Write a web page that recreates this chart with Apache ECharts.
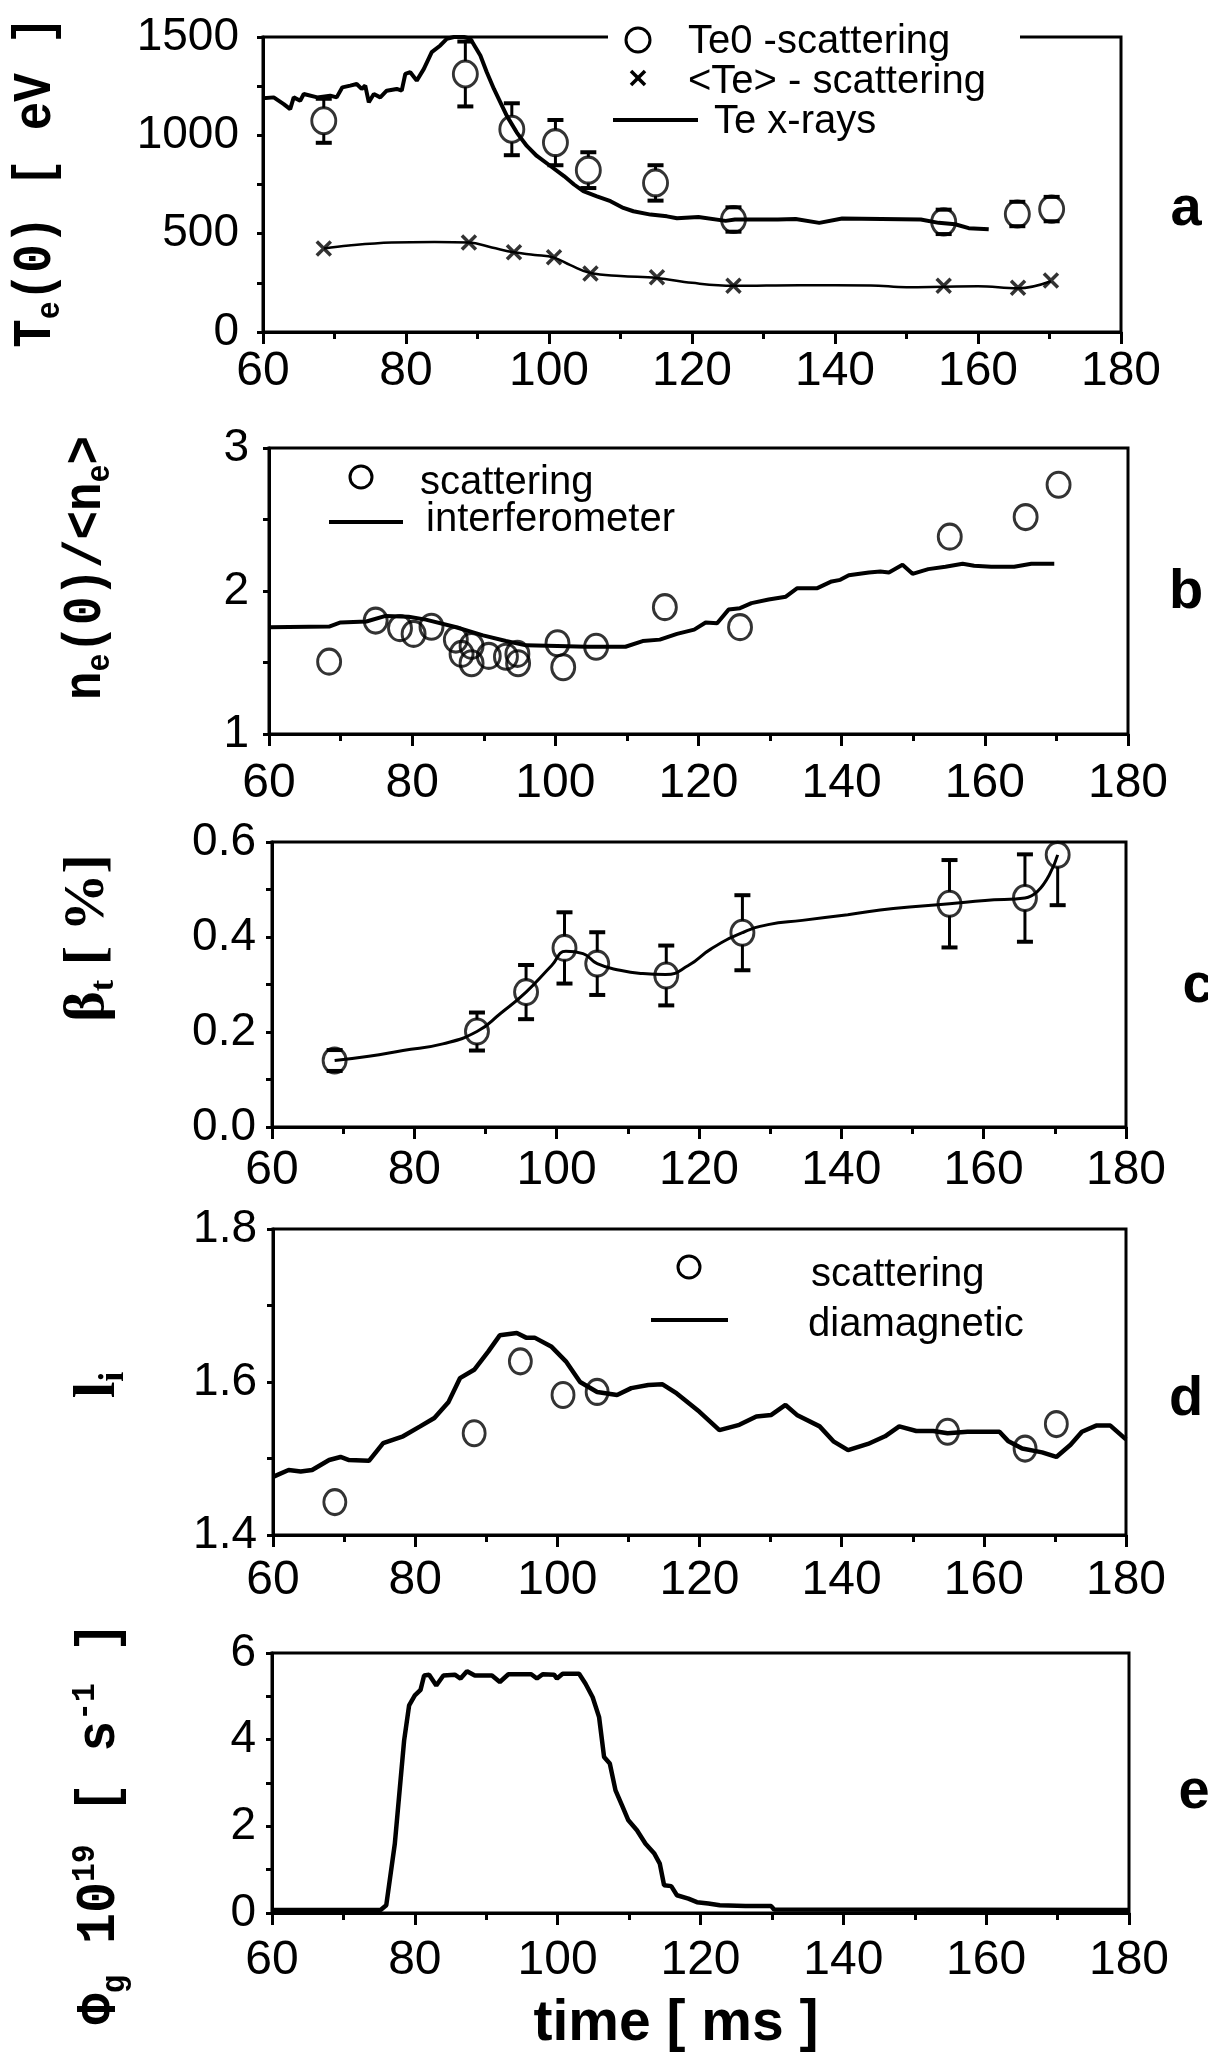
<!DOCTYPE html>
<html><head><meta charset="utf-8">
<script src="https://cdn.jsdelivr.net/npm/echarts@6/dist/echarts.min.js"></script>
<style>html,body{margin:0;padding:0;background:#fff}#chart{width:1208px;height:2055px}</style>
</head><body><div id="chart"></div>
<script>
// ---------- Panel a : Te(0) ----------
const teXrayT = [60,61.5,62.9,63.8,64.3,65.2,65.7,67.6,69.4,70.3,71.1,72.2,73.1,73.8,74.3,74.8,75.5,76.4,77.3,78.7,79.4,79.9,80.6,81.5,82.5,83.6,84.8,85.7,86.7,88.1,89.0,90.4,91.3,92.3,93.2,94.1,95.5,96.9,98.3,100.2,102.1,103.5,104.8,106.7,108.6,110.4,111.8,114.2,116.5,117.9,120.9,124.7,126,132,134.5,137.8,141,146.5,152,154.5,156.8,158.7,161.5];
const teXrayV = [1188,1193,1159,1133,1193,1176,1210,1193,1202,1193,1244,1253,1261,1236,1253,1168,1210,1193,1227,1236,1227,1312,1321,1278,1338,1423,1457,1491,1500,1500,1491,1406,1321,1236,1168,1099,1014,946,895,844,793,750,716,690,665,631,614,597,588,578,585,565,572,572,575,555,577,575,572,555,548,528,522];
const te0T = [68.5,88.3,94.8,100.9,105.5,114.9,125.8,155.2,165.5,170.3];
const te0V = [1074,1312,1031,963,823,758,572,560,600,625];
const te0Err = [112,165,132,115,91,90,62,62,62,62];
const teAvgT = [68.5,88.8,95.1,100.7,105.8,115.1,125.8,155.2,165.6,170.2];
const teAvgV = [425,455,405,380,298,278,235,235,225,262];
const teAvgLineT = [68.5,72,78,84,88.8,92,95.1,98,100.7,103,105.8,110,115.1,120,125.8,135,145,150,155.2,160,165.6,170.2];
const teAvgLineV = [425,440,455,458,455,430,405,392,378,340,300,285,275,250,235,238,237,228,230,232,222,258];
// ---------- Panel b : ne(0)/<ne> ----------
const ifmT = [60,68.4,70.0,73.6,76.3,79.5,81.9,85.9,89.9,93.1,95.9,100.3,104.3,109.8,112.2,114.6,117.0,119.4,121.0,122.6,124.2,125.8,127.4,129.8,132.2,133.8,136.6,138.6,139.8,141.0,143.8,145.4,146.6,148.5,149.9,152.1,154.5,156.9,158.5,160.9,164.1,166.5,169.7];
const ifmV = [1.747,1.751,1.78,1.787,1.826,1.82,1.80,1.75,1.69,1.65,1.62,1.616,1.61,1.61,1.65,1.66,1.70,1.73,1.78,1.775,1.87,1.88,1.915,1.94,1.96,2.02,2.02,2.067,2.078,2.11,2.13,2.136,2.13,2.183,2.12,2.153,2.17,2.19,2.176,2.17,2.17,2.19,2.19];
const nsT = [68.4,74.9,78.3,80.2,82.7,86.1,88.3,86.9,88.3,90.7,93.1,94.7,94.8,100.3,101.1,105.7,115.3,125.8,155.1,165.7,170.3];
const nsV = [1.506,1.793,1.74,1.70,1.75,1.66,1.616,1.56,1.495,1.546,1.54,1.56,1.495,1.635,1.467,1.61,1.887,1.747,2.38,2.517,2.743];
// ---------- Panel c : beta_t ----------
const betaT = [68.8,88.8,95.7,101.1,105.7,115.4,126.1,155.2,165.8,170.4];
const betaV = [0.140,0.201,0.284,0.377,0.344,0.319,0.409,0.470,0.482,0.573];
const betaErr = [0.022,0.040,0.057,0.075,0.066,0.063,0.079,0.092,0.092,0.106];
const betaLineT = [68.8,73.6,78.4,84.0,88.8,92.1,95.7,99.3,101.3,103.7,105.7,108.9,112.1,115.3,118.5,121.7,126.1,129.7,134.5,140.9,147.3,155.2,160.2,165.8,170.4];
const betaLineV = [0.140,0.149,0.161,0.175,0.201,0.239,0.284,0.340,0.370,0.365,0.344,0.330,0.323,0.321,0.340,0.375,0.409,0.426,0.435,0.447,0.460,0.470,0.477,0.482,0.573];
// ---------- Panel d : li ----------
const diaT = [60,62.2,63.9,65.5,67.9,69.5,70.7,73.5,75.5,78.3,80.7,82.7,84.7,86.3,88.3,90.3,91.9,94.3,95.6,96.8,99.2,101.2,103.2,105.6,108.4,110.4,112.8,114.8,116.8,120.0,122.8,125.6,128.0,130.1,132.1,133.7,136.9,138.9,140.9,143.7,146.1,148.1,150.5,152.9,154.9,157.7,162.2,163.4,165.4,168.2,170.2,172.2,173.8,175.8,177.8,180];
const diaV = [1.476,1.485,1.483,1.485,1.498,1.502,1.498,1.497,1.520,1.529,1.542,1.553,1.574,1.605,1.616,1.640,1.661,1.664,1.658,1.658,1.646,1.627,1.600,1.587,1.583,1.592,1.596,1.597,1.585,1.561,1.537,1.544,1.555,1.557,1.570,1.557,1.542,1.522,1.511,1.519,1.529,1.542,1.536,1.536,1.533,1.535,1.535,1.523,1.513,1.508,1.502,1.518,1.535,1.543,1.543,1.525];
const liT = [68.7,88.3,94.8,100.8,105.6,154.9,165.8,170.2];
const liV = [1.443,1.533,1.627,1.583,1.587,1.535,1.513,1.545];
// ---------- Panel e : Phi_g ----------
const phiT = [60,75.2,76.0,77.2,78.5,79.2,80.0,80.8,81.3,82.0,83.0,84.0,85.6,86.4,87.3,88.4,90.8,91.9,93.1,96.3,97.1,97.9,99.5,99.9,100.7,103.0,103.9,104.9,105.8,106.5,107.3,108.1,109.1,109.9,111.1,112.3,113.5,114.3,114.9,115.9,116.7,118.3,119.5,121.1,122.7,126.3,129.9,130.3,180];
const phiV = [0.07,0.07,0.18,1.6,3.98,4.79,5.02,5.15,5.48,5.50,5.25,5.48,5.50,5.41,5.58,5.48,5.48,5.33,5.51,5.51,5.41,5.51,5.50,5.41,5.52,5.52,5.29,4.98,4.52,3.6,3.45,2.83,2.45,2.14,1.91,1.6,1.38,1.14,0.64,0.62,0.41,0.33,0.25,0.22,0.18,0.16,0.16,0.08,0.07];
// ---------- axis ticks ----------
const timeTicks = [60,80,100,120,140,160,180];
const teTicks = [0,500,1000,1500];
const neTicks = [1,2,3];
const betaTicks = [0.0,0.2,0.4,0.6];
const liTicks = [1.4,1.6,1.8];
const phiTicks = [0,2,4,6];

const zip = (a,b) => a.map((v,i)=>[v,b[i]]);
const K = '#000';
const grids = [
  {left:263, top:37, width:858, height:295},
  {left:269, top:448, width:859, height:286},
  {left:272, top:842, width:854, height:285},
  {left:273, top:1229, width:853, height:306},
  {left:272, top:1653, width:857, height:260}
];
const xMargins = [16,26,20,22,24];
const yMargins = [24,20,16,16,16];
const yTickSets = [teTicks, neTicks, betaTicks, liTicks, phiTicks];
const yDec = [0,0,1,1,0];

function xAx(i){
  return {type:'value', gridIndex:i, min:timeTicks[0], max:timeTicks[timeTicks.length-1], interval:timeTicks[1]-timeTicks[0],
    axisLine:{show:true, onZero:false, lineStyle:{color:K,width:3}},
    axisTick:{show:true, inside:false, length:12, lineStyle:{color:K,width:3}},
    minorTick:{show:true, splitNumber:2, length:7, lineStyle:{color:K,width:3}},
    splitLine:{show:false},
    axisLabel:{color:K, fontSize:48, fontFamily:'Liberation Sans, Arial, sans-serif', margin:xMargins[i]}};
}
function yAx(i){
  const t = yTickSets[i];
  return {type:'value', gridIndex:i, min:t[0], max:t[t.length-1], interval:t[1]-t[0],
    axisLine:{show:true, onZero:false, lineStyle:{color:K,width:3}},
    axisTick:{show:true, inside:false, length:6, lineStyle:{color:K,width:3}},
    minorTick:{show:true, splitNumber:2, length:6, lineStyle:{color:K,width:3}},
    splitLine:{show:false},
    axisLabel:{color:K, fontSize:46, fontFamily:'Liberation Sans, Arial, sans-serif', margin:yMargins[i],
      formatter:v=>Number(v).toFixed(yDec[i])}};
}

function errBars(idx, T, V, E, r){
  return {type:'custom', xAxisIndex:idx, yAxisIndex:idx, z:3,
    data:T.map((t,i)=>[t,V[i],E[i]]),
    renderItem:(params, api)=>{
      const x=api.value(0), y=api.value(1), e=api.value(2);
      const c=api.coord([x,y]), hi=api.coord([x,y+e]), lo=api.coord([x,y-e]);
      const top=params.coordSys.y;
      const hy=Math.max(hi[1], top);
      const ch=[];
      const st={stroke:K, lineWidth:3};
      if (hy < c[1]-r) ch.push({type:'line', shape:{x1:c[0],y1:hy,x2:c[0],y2:c[1]-r}, style:st});
      if (lo[1] > c[1]+r) ch.push({type:'line', shape:{x1:c[0],y1:c[1]+r,x2:c[0],y2:lo[1]}, style:st});
      if (hi[1] > top+2) ch.push({type:'line', shape:{x1:c[0]-8,y1:hi[1],x2:c[0]+8,y2:hi[1]}, style:{stroke:K,lineWidth:4}});
      ch.push({type:'line', shape:{x1:c[0]-8,y1:lo[1],x2:c[0]+8,y2:lo[1]}, style:{stroke:K,lineWidth:4}});
      return {type:'group', children:ch};
    }};
}
const ring = {color:'rgba(0,0,0,0)', borderColor:K, borderWidth:3};
const crossPath = 'path://M0,0L10,10M10,0L0,10';

const series = [
  {type:'line', name:'Te x-rays', xAxisIndex:0, yAxisIndex:0, data:zip(teXrayT,teXrayV), showSymbol:false, symbol:'none', lineStyle:{color:K,width:4}},
  {type:'line', name:'<Te> line', xAxisIndex:0, yAxisIndex:0, data:zip(teAvgLineT,teAvgLineV), smooth:0.4, symbol:'none', lineStyle:{color:K,width:2.5}},
  {type:'scatter', name:'<Te> - scattering', xAxisIndex:0, yAxisIndex:0, data:zip(teAvgT,teAvgV), symbol:crossPath, symbolSize:14, itemStyle:{color:K, borderColor:K, borderWidth:3.5}},
  errBars(0, te0T, te0V, te0Err, 13),
  {type:'scatter', name:'Te0 -scattering', xAxisIndex:0, yAxisIndex:0, data:zip(te0T,te0V), symbol:'circle', symbolSize:[24,26], itemStyle:ring},

  {type:'line', name:'interferometer', xAxisIndex:1, yAxisIndex:1, data:zip(ifmT,ifmV), symbol:'none', lineStyle:{color:K,width:4}},
  {type:'scatter', name:'scattering', xAxisIndex:1, yAxisIndex:1, data:zip(nsT,nsV), symbol:'circle', symbolSize:[23,25], itemStyle:ring},

  {type:'line', name:'beta line', xAxisIndex:2, yAxisIndex:2, data:zip(betaLineT,betaLineV), smooth:0.5, symbol:'none', lineStyle:{color:K,width:3}},
  errBars(2, betaT, betaV, betaErr, 12),
  {type:'scatter', name:'beta', xAxisIndex:2, yAxisIndex:2, data:zip(betaT,betaV), symbol:'circle', symbolSize:[23,25], itemStyle:ring},

  {type:'line', name:'diamagnetic', xAxisIndex:3, yAxisIndex:3, data:zip(diaT,diaV), symbol:'none', lineStyle:{color:K,width:4.5}},
  {type:'scatter', name:'scattering li', xAxisIndex:3, yAxisIndex:3, data:zip(liT,liV), symbol:'circle', symbolSize:[22,25], itemStyle:ring},

  {type:'line', name:'Phi', xAxisIndex:4, yAxisIndex:4, data:zip(phiT,phiV), symbol:'none', lineStyle:{color:K,width:4.5}}
];

const SANS = 'Liberation Sans, Arial, sans-serif';
const MONO = 'Liberation Mono, Courier New, monospace';
const SERIF = 'Liberation Serif, Times New Roman, serif';
function txt(x,y,text,size,opts){
  opts = opts||{};
  return {type:'text', x:x, y:y, z:50, style:{text:text, fill:K, fontSize:size, fontFamily:opts.family||SANS, fontWeight:opts.weight||'normal', align:opts.align||'left', verticalAlign:'middle'}};
}
function vtitle(cx, cy, text, rich, sx){
  return {type:'text', x:cx, y:cy, rotation:Math.PI/2, scaleX:sx||1, z:50, style:{text:text, fill:K, align:'center', verticalAlign:'middle', rich:rich}};
}
const richMono = (m, s) => ({
  m:{fontFamily:MONO, fontWeight:'bold', fontSize:m, lineHeight:m+8, fill:K},
  s:{fontFamily:MONO, fontWeight:'bold', fontSize:s, lineHeight:s, verticalAlign:'bottom', fill:K},
  u:{fontFamily:MONO, fontWeight:'bold', fontSize:s, lineHeight:s, verticalAlign:'top', fill:K}
});
const richSerif = (m, s) => ({
  m:{fontFamily:SERIF, fontWeight:'bold', fontSize:m, lineHeight:m+8, fill:K},
  s:{fontFamily:SERIF, fontWeight:'bold', fontSize:s, lineHeight:s, verticalAlign:'bottom', fill:K}
});

const graphic = [
  // legend a (white box breaks the top frame)
  {type:'rect', shape:{x:608, y:18, width:412, height:122}, style:{fill:'#fff'}, z:40},
  {type:'circle', shape:{cx:638, cy:40, r:12}, style:{fill:'none', stroke:K, lineWidth:3}, z:50},
  txt(688, 42, 'Te0 -scattering', 40),
  {type:'group', z:50, children:[
    {type:'line', shape:{x1:631,y1:71,x2:645,y2:85}, style:{stroke:K,lineWidth:3.5}, z:50},
    {type:'line', shape:{x1:645,y1:71,x2:631,y2:85}, style:{stroke:K,lineWidth:3.5}, z:50}]},
  txt(688, 82, '<Te> - scattering', 40),
  {type:'line', shape:{x1:613,y1:120,x2:698,y2:120}, style:{stroke:K,lineWidth:4}, z:50},
  txt(714, 122, 'Te x-rays', 40),
  // legend b
  {type:'circle', shape:{cx:361, cy:477, r:11}, style:{fill:'none', stroke:K, lineWidth:3}, z:50},
  txt(420, 483, 'scattering', 40),
  {type:'line', shape:{x1:329,y1:522,x2:403,y2:522}, style:{stroke:K,lineWidth:4}, z:50},
  txt(426, 520, 'interferometer', 40),
  // legend d
  {type:'circle', shape:{cx:689, cy:1267, r:11}, style:{fill:'none', stroke:K, lineWidth:3}, z:50},
  txt(811, 1275, 'scattering', 40),
  {type:'line', shape:{x1:651,y1:1320,x2:728,y2:1320}, style:{stroke:K,lineWidth:4}, z:50},
  txt(808, 1325, 'diamagnetic', 40),
  // panel letters
  txt(1186, 210, 'a', 56, {weight:'bold', align:'center'}),
  txt(1186, 593, 'b', 56, {weight:'bold', align:'center'}),
  txt(1198, 987, 'c', 56, {weight:'bold', align:'center'}),
  txt(1186, 1400, 'd', 56, {weight:'bold', align:'center'}),
  txt(1194, 1793, 'e', 56, {weight:'bold', align:'center'}),
  // x axis title
  txt(676, 2024, 'time [ ms ]', 57, {weight:'bold', align:'center'}),
  // y axis titles
  vtitle(36, 182, '{m|T}{s|e}{m|(0) [ eV ]}', richMono(54,34), 0.88),
  vtitle(86, 568, '{m|n}{s|e}{m|(0)/<n}{s|e}{m|>}', richMono(54,34), 0.88),
  vtitle(88, 938, '{m|β}{s|t}{m| [ %]}', richSerif(58,34)),
  vtitle(98, 1385, '{m|l}{s|i}', richSerif(60,36)),
  vtitle(100, 1823, '{m|Φ}{s|g}{m| 10}{u|19}{m| [ s}{u|-1}{m| ]}', richMono(56,34), 0.92)
];

const chart = echarts.init(document.getElementById('chart'), null, {renderer:'canvas'});
chart.setOption({
  animation:false,
  backgroundColor:'#fff',
  grid: grids.map(g=>Object.assign({show:true, borderColor:K, borderWidth:3, backgroundColor:'rgba(0,0,0,0)', containLabel:false}, g)),
  xAxis: [0,1,2,3,4].map(xAx),
  yAxis: [0,1,2,3,4].map(yAx),
  series: series,
  graphic: graphic
});
</script>
</body></html>
